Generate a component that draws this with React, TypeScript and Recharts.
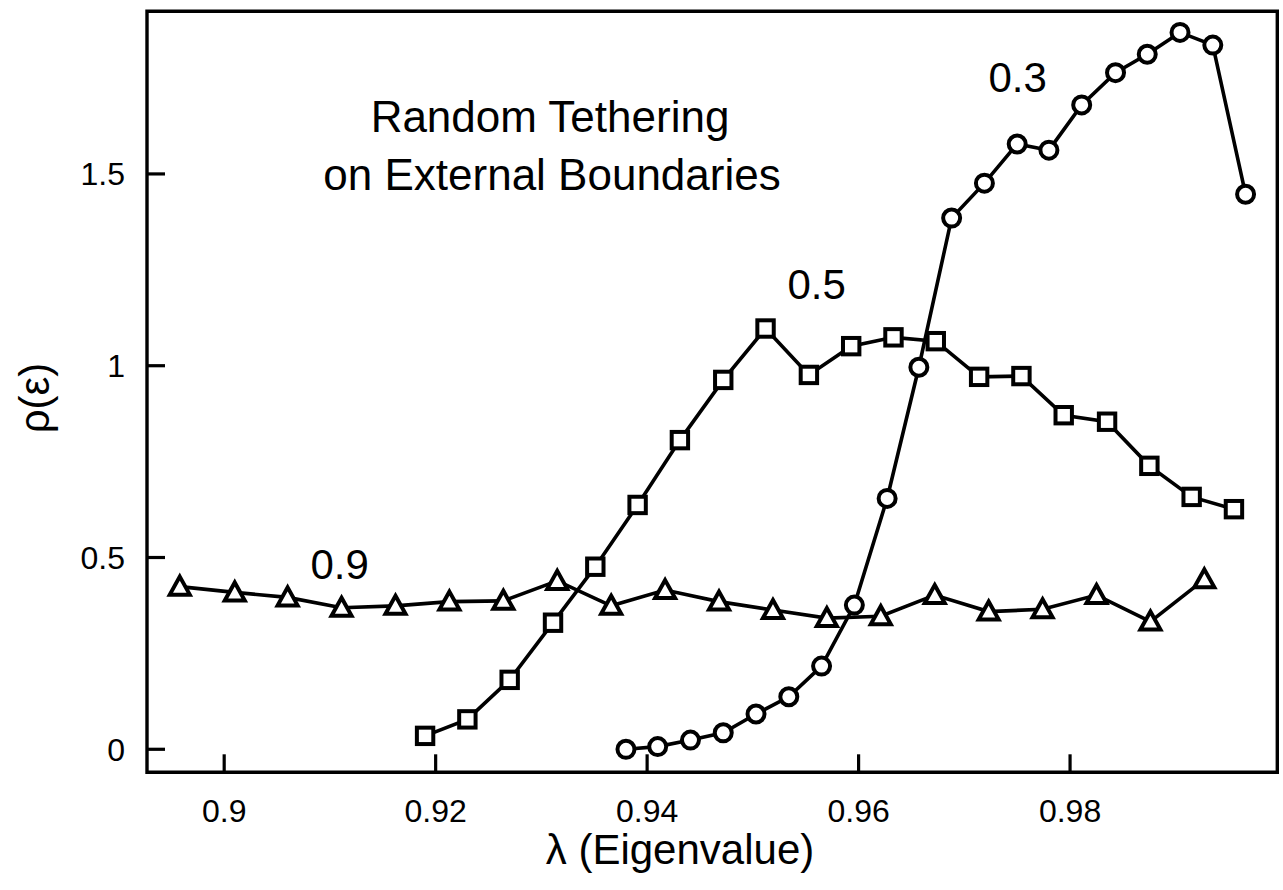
import { LineChart, Line, XAxis, YAxis, ReferenceArea } from 'recharts'

// tethering fraction 0.3 (circles)
const lambda03 = [0.938, 0.941, 0.9441, 0.9472, 0.9503, 0.9534, 0.9565, 0.9596, 0.9627, 0.9657, 0.9688, 0.9719, 0.975, 0.978, 0.9811, 0.9843, 0.9873, 0.9904, 0.9935, 0.9966]
const rho03 = [0.0, 0.007, 0.024, 0.043, 0.092, 0.137, 0.217, 0.376, 0.654, 0.996, 1.385, 1.476, 1.578, 1.562, 1.68, 1.764, 1.812, 1.869, 1.836, 1.447]

// tethering fraction 0.5 (squares)
const lambda05 = [0.919, 0.923, 0.927, 0.9311, 0.9351, 0.9391, 0.9431, 0.9472, 0.9512, 0.9553, 0.9593, 0.9633, 0.9673, 0.9714, 0.9754, 0.9794, 0.9835, 0.9875, 0.9915, 0.9955]
const rho05 = [0.035, 0.078, 0.181, 0.33, 0.476, 0.637, 0.806, 0.963, 1.097, 0.976, 1.051, 1.074, 1.064, 0.971, 0.973, 0.871, 0.854, 0.739, 0.658, 0.626]

// tethering fraction 0.9 (triangles)
const lambda09 = [0.8958, 0.901, 0.906, 0.9111, 0.9162, 0.9213, 0.9264, 0.9315, 0.9366, 0.9417, 0.9468, 0.9519, 0.957, 0.9621, 0.9672, 0.9723, 0.9774, 0.9825, 0.9876, 0.9927]
const rho09 = [0.424, 0.409, 0.396, 0.369, 0.374, 0.385, 0.387, 0.439, 0.374, 0.415, 0.385, 0.363, 0.342, 0.347, 0.402, 0.359, 0.365, 0.402, 0.333, 0.443]

const xTicks = [0.9, 0.92, 0.94, 0.96, 0.98]
const yTicks = [0, 0.5, 1, 1.5]
const xDomain = [0.8927, 0.9996]
const yDomain = [-0.06, 1.924]

const zip = (xs: number[], ys: number[]) => xs.map((x, i) => ({ x, y: ys[i] }))
const data03 = zip(lambda03, rho03)
const data05 = zip(lambda05, rho05)
const data09 = zip(lambda09, rho09)

const FONT = '"Liberation Sans", Arial, sans-serif'
const LW = 3.6 // line width
const MW = 4 // marker outline width

function XTick({ x, y, payload }: any) {
  return (
    <g>
      <line x1={x} y1={y} x2={x} y2={y - 18} stroke="#000" strokeWidth={3.2} />
      <text x={x} y={y + 50} textAnchor="middle" fontSize={32} fontFamily={FONT} fill="#000">
        {String(payload.value)}
      </text>
    </g>
  )
}

function YTick({ x, y, payload }: any) {
  return (
    <g>
      <line x1={x} y1={y} x2={x + 18} y2={y} stroke="#000" strokeWidth={3.2} />
      <text x={x - 22} y={y} dy="0.36em" textAnchor="end" fontSize={32} fontFamily={FONT} fill="#000">
        {String(payload.value)}
      </text>
    </g>
  )
}

function Square({ cx, cy }: any) {
  return <rect x={cx - 8.2} y={cy - 8.2} width={16.4} height={16.4} fill="#fff" stroke="#000" strokeWidth={MW} />
}

function Triangle({ cx, cy }: any) {
  return (
    <path
      d={`M${cx},${cy - 10} L${cx + 10},${cy + 8} L${cx - 10},${cy + 8} Z`}
      fill="#fff"
      stroke="#000"
      strokeWidth={MW}
      strokeLinejoin="miter"
    />
  )
}

export default function App() {
  return (
    <div style={{ position: 'absolute', left: 0, top: 0 }}>
      <LineChart width={1283} height={890} margin={{ top: 11.3, right: 5.7, left: 0, bottom: 0 }}>
        <XAxis
          type="number"
          dataKey="x"
          domain={xDomain}
          ticks={xTicks}
          interval={0}
          height={117.7}
          axisLine={false}
          tickLine={false}
          tickSize={0}
          tickMargin={0}
          tick={<XTick />}
          allowDataOverflow
        />
        <YAxis
          type="number"
          dataKey="y"
          domain={yDomain}
          ticks={yTicks}
          interval={0}
          width={147}
          axisLine={false}
          tickLine={false}
          tickSize={0}
          tickMargin={0}
          tick={<YTick />}
          allowDataOverflow
        />
        <ReferenceArea
          x1={xDomain[0]}
          x2={xDomain[1]}
          y1={yDomain[0]}
          y2={yDomain[1]}
          fill="none"
          fillOpacity={0}
          stroke="#000"
          strokeWidth={3.4}
          ifOverflow="visible"
        />
        <Line
          data={data09}
          dataKey="y"
          type="linear"
          stroke="#000"
          strokeWidth={LW}
          dot={(p: any) => <Triangle key={'t' + p.index} {...p} />}
          isAnimationActive={false}
        />
        <Line
          data={data05}
          dataKey="y"
          type="linear"
          stroke="#000"
          strokeWidth={LW}
          dot={(p: any) => <Square key={'s' + p.index} {...p} />}
          isAnimationActive={false}
        />
        <Line
          data={data03}
          dataKey="y"
          type="linear"
          stroke="#000"
          strokeWidth={LW}
          dot={{ r: 8.5, fill: '#fff', stroke: '#000', strokeWidth: MW }}
          isAnimationActive={false}
        />
        <text x={550} y={131.7} textAnchor="middle" fontSize={44} fontFamily={FONT} fill="#000">
          Random Tethering
        </text>
        <text x={552} y={190} textAnchor="middle" fontSize={44} fontFamily={FONT} fill="#000">
          on External Boundaries
        </text>
        <text x={1017.7} y={92} textAnchor="middle" fontSize={42} fontFamily={FONT} fill="#000">0.3</text>
        <text x={816.7} y={299.3} textAnchor="middle" fontSize={42} fontFamily={FONT} fill="#000">0.5</text>
        <text x={339.7} y={579.3} textAnchor="middle" fontSize={42} fontFamily={FONT} fill="#000">0.9</text>
        <text x={680} y={864} textAnchor="middle" fontSize={42} fontFamily={FONT} fill="#000">
          λ (Eigenvalue)
        </text>
        <text
          x={34}
          y={398}
          textAnchor="middle"
          dominantBaseline="central"
          transform="rotate(-90 34 398)"
          fontSize={42}
          fontFamily={FONT}
          fill="#000"
        >
          ρ(ε)
        </text>
      </LineChart>
    </div>
  )
}
